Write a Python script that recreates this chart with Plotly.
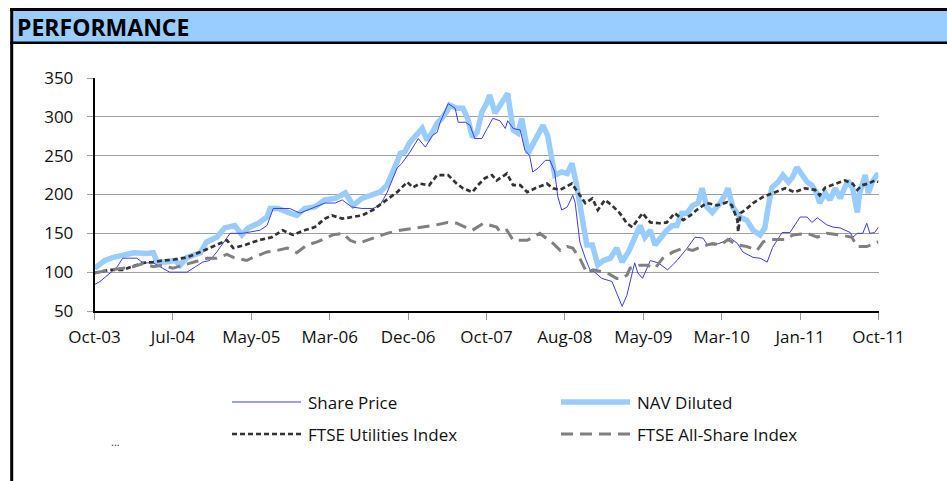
import plotly.graph_objects as go

W, H = 947, 481

tick_labels = ["Oct-03", "Jul-04", "May-05", "Mar-06", "Dec-06", "Oct-07",
               "Aug-08", "May-09", "Mar-10", "Jan-11", "Oct-11"]

# x positions expressed in label-interval units (0 = Oct-03 ... 10 = Oct-11)
nav_pos = [0.00,0.13,0.24,0.36,0.50,0.67,0.75,0.80,0.90,1.03,
           1.09,1.18,1.35,1.43,1.56,1.66,1.79,1.88,1.96,2.09,
           2.20,2.24,2.34,2.47,2.58,2.68,2.81,2.94,3.07,3.20,
           3.30,3.41,3.51,3.64,3.73,3.81,3.86,3.90,3.96,4.02,
           4.11,4.18,4.24,4.31,4.37,4.43,4.50,4.53,4.62,4.70,
           4.76,4.82,4.88,4.94,5.01,5.04,5.11,5.20,5.27,5.34,
           5.40,5.45,5.53,5.62,5.72,5.78,5.87,5.96,6.03,6.09,
           6.15,6.22,6.28,6.35,6.42,6.49,6.58,6.66,6.73,6.81,
           6.89,6.96,7.02,7.09,7.15,7.24,7.30,7.37,7.43,7.49,
           7.56,7.63,7.70,7.75,7.81,7.88,7.98,8.04,8.08,8.14,
           8.23,8.32,8.40,8.49,8.55,8.59,8.64,8.72,8.78,8.85,
           8.90,8.96,9.02,9.09,9.15,9.21,9.25,9.32,9.38,9.45,
           9.51,9.55,9.61,9.67,9.73,9.76,9.83,9.87,9.92,9.98,
           10.0]
nav_diluted = [105,115,119,122,125,124,125,113,113,115,
               109,119,125,139,145,157,160,148,157,163,
               171,182,182,177,173,182,184,193,195,202,
               186,195,199,203,212,229,242,253,255,267,
               276,285,270,280,292,298,308,315,311,311,
               298,274,280,306,319,328,305,321,330,283,
               279,298,253,270,289,276,225,229,227,240,
               212,170,135,135,109,115,118,131,113,126,
               145,160,145,154,135,148,154,160,160,176,
               176,186,189,208,184,177,189,199,208,184,
               171,167,154,148,157,182,209,216,225,216,
               222,235,225,216,212,202,189,202,193,208,
               195,206,218,208,177,202,225,202,216,225,
               225]

share_pos = [0.00,0.07,0.20,0.29,0.36,0.54,0.62,0.75,0.87,0.96,
             1.18,1.26,1.38,1.47,1.56,1.73,1.89,2.11,2.20,2.28,
             2.49,2.62,2.77,2.94,3.07,3.16,3.28,3.41,3.55,3.64,
             3.73,3.79,3.86,3.92,4.02,4.13,4.22,4.31,4.37,4.41,
             4.51,4.60,4.64,4.73,4.79,4.85,4.94,5.01,5.08,5.17,
             5.24,5.27,5.34,5.43,5.49,5.55,5.59,5.66,5.75,5.81,
             5.87,5.91,5.96,6.03,6.10,6.13,6.19,6.26,6.32,6.38,
             6.47,6.60,6.66,6.73,6.79,6.86,6.89,6.93,6.99,7.09,
             7.19,7.31,7.43,7.56,7.66,7.76,7.82,7.91,8.02,8.11,
             8.20,8.27,8.40,8.49,8.58,8.65,8.77,8.87,9.00,9.09,
             9.15,9.22,9.34,9.42,9.51,9.64,9.67,9.73,9.80,9.85,
             9.89,9.95,10.0]
share_price = [84,88,99,107,118,118,112,112,105,100,
               100,105,113,115,126,150,150,154,160,182,
               182,176,182,189,189,193,184,182,182,186,
               202,218,234,240,254,272,261,276,280,293,
               317,311,293,293,289,272,272,285,298,295,
               285,295,285,283,257,250,229,234,244,244,
               229,197,180,184,199,190,139,118,103,100,
               92,88,74,56,70,97,112,99,92,115,
               112,103,115,131,145,144,135,135,139,144,
               137,126,119,118,113,132,151,151,171,171,
               164,170,161,158,157,151,145,150,150,163,
               150,151,158]

util_pos = [0.00,0.20,0.36,0.49,0.62,0.75,0.87,1.00,1.18,1.35,
            1.51,1.69,1.77,1.92,2.09,2.26,2.40,2.53,2.68,2.81,
            2.94,3.03,3.16,3.28,3.41,3.55,3.73,3.86,3.99,4.06,
            4.15,4.27,4.37,4.51,4.62,4.70,4.82,4.89,4.98,5.07,
            5.13,5.26,5.34,5.43,5.52,5.62,5.77,5.85,5.94,6.09,
            6.17,6.26,6.35,6.42,6.51,6.60,6.70,6.79,6.86,6.92,
            6.99,7.09,7.21,7.30,7.40,7.51,7.60,7.68,7.81,7.94,
            8.07,8.13,8.20,8.21,8.24,8.30,8.40,8.53,8.68,8.81,
            8.93,9.06,9.19,9.25,9.32,9.45,9.57,9.67,9.73,9.79,
            9.87,9.95,10.0]
ftse_utilities = [99,103,103,107,112,113,115,116,119,126,
                  133,141,131,135,141,145,154,148,154,158,
                  169,173,169,171,173,180,193,203,216,209,
                  214,212,225,225,214,208,203,212,221,225,
                  218,227,212,212,203,208,214,208,206,214,
                  202,189,195,180,193,186,176,163,158,167,
                  176,164,163,164,176,167,173,180,189,186,
                  190,186,167,152,176,180,189,197,203,208,
                  203,208,206,199,209,214,218,214,206,212,
                  214,218,216]

allshare_pos = [0.00,0.20,0.36,0.49,0.62,0.75,0.87,1.00,1.13,1.26,
                1.44,1.56,1.69,1.77,1.94,2.02,2.20,2.33,2.46,2.58,
                2.71,2.84,2.94,3.04,3.17,3.26,3.36,3.55,3.73,3.90,
                4.11,4.32,4.50,4.62,4.75,4.82,4.96,5.13,5.17,5.26,
                5.34,5.52,5.68,5.85,5.94,6.03,6.10,6.19,6.28,6.36,
                6.54,6.66,6.73,6.79,6.83,6.96,7.05,7.15,7.25,7.38,
                7.51,7.63,7.75,7.88,7.98,8.08,8.20,8.32,8.45,8.53,
                8.64,8.81,8.91,9.09,9.22,9.34,9.51,9.66,9.73,9.85,
                10.0]
ftse_allshare = [99,103,105,107,111,107,109,105,109,113,
                 118,118,123,119,115,119,126,128,131,125,
                 135,139,144,148,150,141,137,144,150,154,
                 157,160,164,163,157,154,163,158,152,154,
                 141,141,150,137,128,133,131,118,99,103,
                 99,92,92,96,105,109,109,105,118,126,
                 131,128,133,137,135,142,135,133,128,139,
                 142,142,148,150,145,150,148,145,133,133,
                 139]

series_names = ["Share Price", "NAV Diluted", "FTSE Utilities Index", "FTSE All-Share Index"]

C_SHARE = "#3C3CF0"
C_NAV = "#99CCFF"
C_UTIL = "#333333"
C_ALL = "#808080"
FONT = "Open Sans"

fig = go.Figure()
fig.add_trace(go.Scatter(x=nav_pos, y=nav_diluted, mode="lines", name=series_names[1],
                         line=dict(color=C_NAV, width=5.5)))
fig.add_trace(go.Scatter(x=share_pos, y=share_price, mode="lines", name=series_names[0],
                         line=dict(color=C_SHARE, width=1)))
fig.add_trace(go.Scatter(x=util_pos, y=ftse_utilities, mode="lines", name=series_names[2],
                         line=dict(color=C_UTIL, width=2.7, dash="5px,3px")))
fig.add_trace(go.Scatter(x=allshare_pos, y=ftse_allshare, mode="lines", name=series_names[3],
                         line=dict(color=C_ALL, width=3, dash="12px,7px")))

def px(x):
    return x / W

def py(y):
    return 1 - y / H

shapes = []
# header band and frame lines
shapes.append(dict(type="rect", xref="paper", yref="paper", x0=px(12), x1=1, y0=py(42), y1=py(10),
                   fillcolor=C_NAV, line=dict(width=0), layer="below"))
shapes.append(dict(type="line", xref="paper", yref="paper", x0=px(10), x1=1, y0=py(9.5), y1=py(9.5),
                   line=dict(color="black", width=3)))
shapes.append(dict(type="line", xref="paper", yref="paper", x0=px(10), x1=1, y0=py(42.8), y1=py(42.8),
                   line=dict(color="black", width=2.5)))
shapes.append(dict(type="line", xref="paper", yref="paper", x0=px(11.7), x1=px(11.7), y0=py(8), y1=0,
                   line=dict(color="black", width=3)))

# manual legend
leg = [
    (series_names[0], 232, 402, dict(color=C_SHARE, width=1)),
    (series_names[1], 561, 402, dict(color=C_NAV, width=5.5)),
    (series_names[2], 232, 434, dict(color=C_UTIL, width=2.7, dash="5px,3px")),
    (series_names[3], 561, 434, dict(color=C_ALL, width=3, dash="12px,7px")),
]
annotations = []
for name, lx, ly, ln in leg:
    shapes.append(dict(type="line", xref="paper", yref="paper", x0=px(lx), x1=px(lx + 69),
                       y0=py(ly), y1=py(ly), line=ln))
    annotations.append(dict(text=name, xref="paper", yref="paper", x=px(lx + 74), y=py(ly),
                            xanchor="left", yanchor="middle", showarrow=False,
                            font=dict(family=FONT, size=17, color="#111111")))

annotations.append(dict(text="<b>PERFORMANCE</b>", xref="paper", yref="paper", x=px(15), y=py(27),
                        xanchor="left", yanchor="middle", showarrow=False,
                        font=dict(family=FONT, size=23, color="black")))
annotations.append(dict(text="...", xref="paper", yref="paper", x=px(115), y=py(441),
                        xanchor="center", yanchor="middle", showarrow=False,
                        font=dict(family=FONT, size=11, color="#333333")))

fig.update_layout(
    template="none",
    width=W, height=H,
    margin=dict(l=0, r=0, t=0, b=0, pad=0, autoexpand=False),
    paper_bgcolor="white", plot_bgcolor="white",
    showlegend=False,
    shapes=shapes, annotations=annotations,
    font=dict(family=FONT, size=17, color="#111111"),
    xaxis=dict(domain=[px(94.5), px(878.5)], range=[0, 10], automargin=False,
               tickmode="array", tickvals=list(range(11)), ticktext=tick_labels,
               showgrid=False, zeroline=False,
               showline=True, linecolor="black", linewidth=1.5,
               ticks="outside", ticklen=7, tickcolor="#999999", tickwidth=1.3,
               ticklabelstandoff=3,
               tickfont=dict(family=FONT, size=17, color="#111111")),
    yaxis=dict(domain=[py(311), py(78)], range=[50, 350], automargin=False,
               tickmode="linear", tick0=50, dtick=50,
               showgrid=True, gridcolor="#A0A0A0", gridwidth=1.4,
               zeroline=False,
               showline=True, linecolor="black", linewidth=1.5,
               ticks="outside", ticklen=6, tickcolor="#A0A0A0", tickwidth=1.4,
               ticklabelstandoff=10,
               tickfont=dict(family=FONT, size=17, color="#111111")),
)

fig.write_html("out.html", config={"displayModeBar": False},
               post_script="document.body.style.margin='0px';document.body.style.overflow='hidden';")
